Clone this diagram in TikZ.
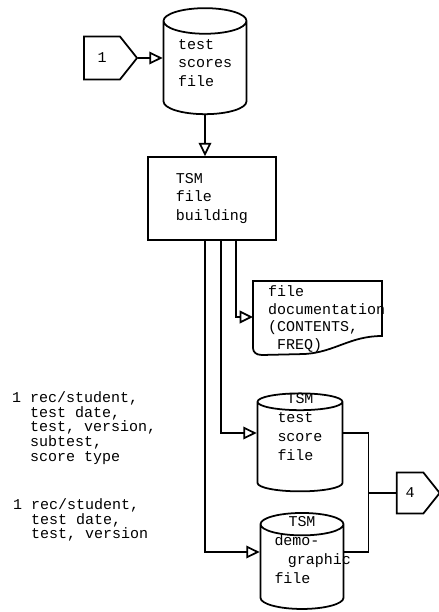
\documentclass[tikz,border=0pt]{standalone}
\usepackage{fontspec}
\setmonofont{Liberation Mono}
\usepackage{tikz}
\usetikzlibrary{shapes.geometric,shapes.symbols,arrows.meta,calc}

\begin{document}
\begin{tikzpicture}[x=0.03cm,y=-0.03cm,
    every node/.style={font=\ttfamily\fontsize{12.8}{16}\selectfont},
    store/.style={cylinder,shape border rotate=90,draw,line width=1.5pt,
      aspect=0.48,inner sep=0pt,text width=1.6cm},
    storetext/.style={align=left,inner sep=0pt},
    proc/.style={rectangle,draw,line width=1.5pt,align=left},
    offpage/.style={signal,signal to=east,signal pointer angle=103,
      draw,line width=1.5pt,inner sep=0pt},
    flow/.style={line width=1.5pt,-{Triangle[open,length=4mm,width=3.8mm]}},
    note/.style={align=left,inner sep=0pt,
      font=\ttfamily\fontsize{12.8}{12.5}\selectfont}
    ]
\useasboundingbox (0,0) rectangle (438,612);

% input side
\node[offpage,minimum width=1.59cm,minimum height=1.29cm] (in1) at (102,58) {1};
\node[store,minimum width=2.49cm,minimum height=3.18cm] (scores) at (205,68) {};
\node[storetext,anchor=west] (scorestext) at (178,63) {test\\scores\\file};
\node[proc,minimum width=3.84cm,minimum height=2.49cm,text width=2.16cm] (build) at (212,198.5) {TSM\\file\\building};

% outputs
\node[anchor=west,align=left,inner xsep=0.45cm,inner ysep=0pt,
  font=\ttfamily\fontsize{12.8}{15}\selectfont] (doc) at (253,319)
  {file\\documentation\\(CONTENTS,\\\hspace*{0.6em}FREQ)};
\draw[line width=1.5pt] (253,281) -- (382,281) -- (382,336)
  .. controls (350,336) and (335,352) .. (305,354) -- (262,355)
  .. controls (256,355) and (253,352) .. (253,348) -- cycle;
\node[store,minimum width=2.55cm,minimum height=2.94cm,text width=1.05cm] (tsmscore) at (300,447) {};
\node[storetext,text width=1.35cm] (tsmscoretext) at (300,427)
  {\hfil TSM\\test\\score\\file};
\node[store,minimum width=2.49cm,minimum height=2.88cm,text width=1.4cm] (demo) at (302,567) {};
\node[storetext,text width=1.65cm] (demotext) at (302,550)
  {\hfil TSM\\demo-\\\hspace*{0.9em}graphic\\file};
\node[offpage,minimum width=1.29cm,minimum height=1.23cm] (out4) at (410,493) {4};

% record layouts
\node[note,anchor=west] (recA) at (12,428)
  {1 rec/student,\\\phantom{1 }test date,\\\phantom{1 }test, version,\\\phantom{1 }subtest,\\\phantom{1 }score type};
\node[note,anchor=west] (recB) at (13,520)
  {1 rec/student,\\\phantom{1 }test date,\\\phantom{1 }test, version};

\draw[flow] (in1.east) -- (in1.east -| scores.west);
\draw[flow] (scores.south) -- (scores.south |- build.north);
\draw[flow] ($(build.south)+(-7,0)$) |- ([yshift=4.5mm]demo.west);
\draw[flow] ($(build.south)+(9,0)$) |- ([yshift=4.2mm]tsmscore.west);
\draw[flow] ($(build.south)+(24,0)$) |- ([yshift=0.6mm]doc.west);
\draw[line width=1.5pt] ([yshift=4.2mm]tsmscore.east) -- ++(25,0) coordinate (join)
  |- ([yshift=4.5mm]demo.east);
\draw[line width=1.5pt] (join |- out4.west) -- (out4.west);
\end{tikzpicture}
\end{document}
